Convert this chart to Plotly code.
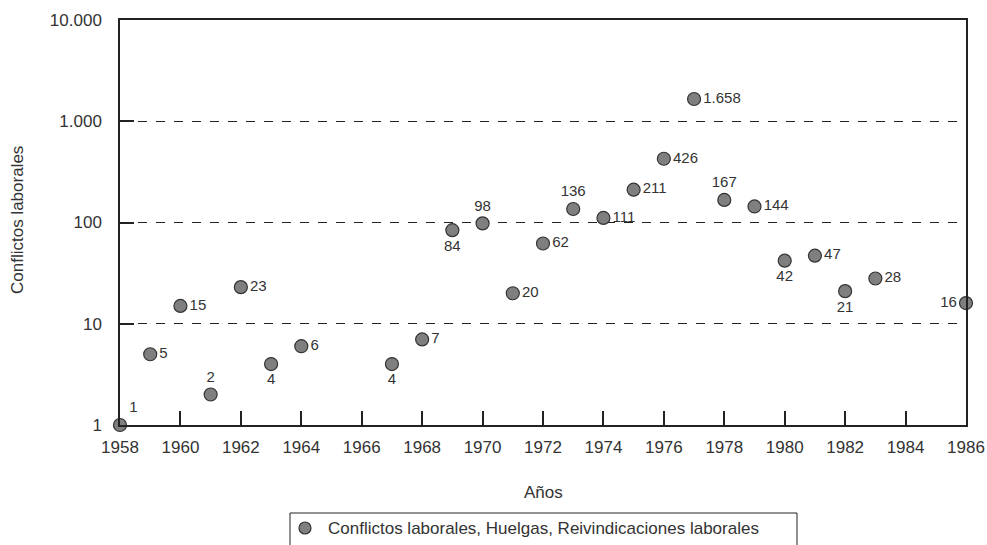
import plotly.graph_objects as go

years = [1958, 1959, 1960, 1961, 1962, 1963, 1964, 1967, 1968, 1969, 1970, 1971, 1972,
         1973, 1974, 1975, 1976, 1977, 1978, 1979, 1980, 1981, 1982, 1983, 1986]
conflicts = [1, 5, 15, 2, 23, 4, 6, 4, 7, 84, 98, 20, 62,
             136, 111, 211, 426, 1658, 167, 144, 42, 47, 21, 28, 16]
label_pos = ["top right", "middle right", "middle right", "top center", "middle right",
             "bottom center", "middle right", "bottom center", "middle right", "bottom center",
             "top center", "middle right", "middle right", "top center", "middle right",
             "middle right", "middle right", "middle right", "top center", "middle right",
             "bottom center", "middle right", "bottom center", "middle right", "middle left"]
y_tickvals = [1, 10, 100, 1000, 10000]
y_ticktext = ["1", "10", "100", "1.000", "10.000"]
x_tickvals = list(range(1958, 1987, 2))
series_name = "Conflictos laborales, Huelgas, Reivindicaciones laborales"


def fmt(v):
    return f"{v:,}".replace(",", ".")


labels = [fmt(v) for v in conflicts]

FONT = "Liberation Sans, Arial, Helvetica, sans-serif"
TXT = "#333333"
MFILL = "#7f7f7f"
MLINE = "#333333"

# plot area on the page: x 120..966, y 20..425 (body margin removed below)
W, H = 987, 545
L, R, T, B = 120, 21, 20, 120
pw, ph = W - L - R, H - T - B


def px(xpage):
    return (xpage - L) / pw


def py(ypage):
    return (H - B - ypage) / ph


fig = go.Figure()
fig.add_trace(go.Scatter(
    x=years, y=conflicts, mode="markers+text",
    name=series_name,
    text=labels, textposition=label_pos,
    textfont=dict(family=FONT, size=15, color=TXT),
    marker=dict(size=13, color=MFILL, line=dict(color=MLINE, width=1.2)),
    cliponaxis=False,
))

shapes = [
    # legend frame (bottom runs past the picture edge, as in the reference)
    dict(type="rect", xref="paper", yref="paper", x0=px(290), x1=px(797),
         y0=py(560), y1=py(513), line=dict(color="#222222", width=1), fillcolor="white",
         layer="above"),
    dict(type="circle", xref="paper", yref="paper", x0=px(299), x1=px(311),
         y0=py(534), y1=py(522), line=dict(color=MLINE, width=1.2), fillcolor=MFILL,
         layer="above"),
]

fig.update_layout(
    width=W, height=H,
    margin=dict(l=L, r=R, t=T, b=B),
    paper_bgcolor="white", plot_bgcolor="white",
    font=dict(family=FONT, size=17, color=TXT),
    showlegend=False,
    shapes=shapes,
    annotations=[
        dict(text="Años", xref="paper", yref="paper", x=0.5, y=py(492),
             xanchor="center", yanchor="middle", showarrow=False,
             font=dict(family=FONT, size=17, color=TXT)),
        dict(text="Conflictos laborales", xref="paper", yref="paper",
             x=px(17), y=py(220), textangle=-90,
             xanchor="center", yanchor="middle", showarrow=False,
             font=dict(family=FONT, size=17, color=TXT)),
        dict(text=series_name, xref="paper", yref="paper", x=px(326), y=py(528),
             xanchor="left", yanchor="middle", showarrow=False,
             font=dict(family=FONT, size=17, color=TXT)),
    ],
)
fig.update_xaxes(
    range=[1958, 1986], tickvals=x_tickvals, ticks="inside", ticklen=14, tickwidth=1.5,
    tickcolor="#222222", showline=True, linecolor="#222222", linewidth=1.5, mirror=True,
    showgrid=False, zeroline=False, automargin=False, ticklabelstandoff=6,
    tickfont=dict(family=FONT, size=17, color=TXT),
)
fig.update_yaxes(
    type="log", range=[0, 4], tickvals=y_tickvals, ticktext=y_ticktext,
    ticks="inside", ticklen=14, tickwidth=1.5, tickcolor="#222222",
    showline=True, linecolor="#222222", linewidth=1.5, mirror=True,
    showgrid=True, gridcolor="#222222", gridwidth=1, griddash="dash", zeroline=False,
    automargin=False, ticklabelstandoff=13,
    tickfont=dict(family=FONT, size=17, color=TXT),
)

fig.write_html(
    "out.html",
    config={"displayModeBar": False},
    post_script="document.body.style.margin='0';document.body.style.overflow='hidden';",
)
